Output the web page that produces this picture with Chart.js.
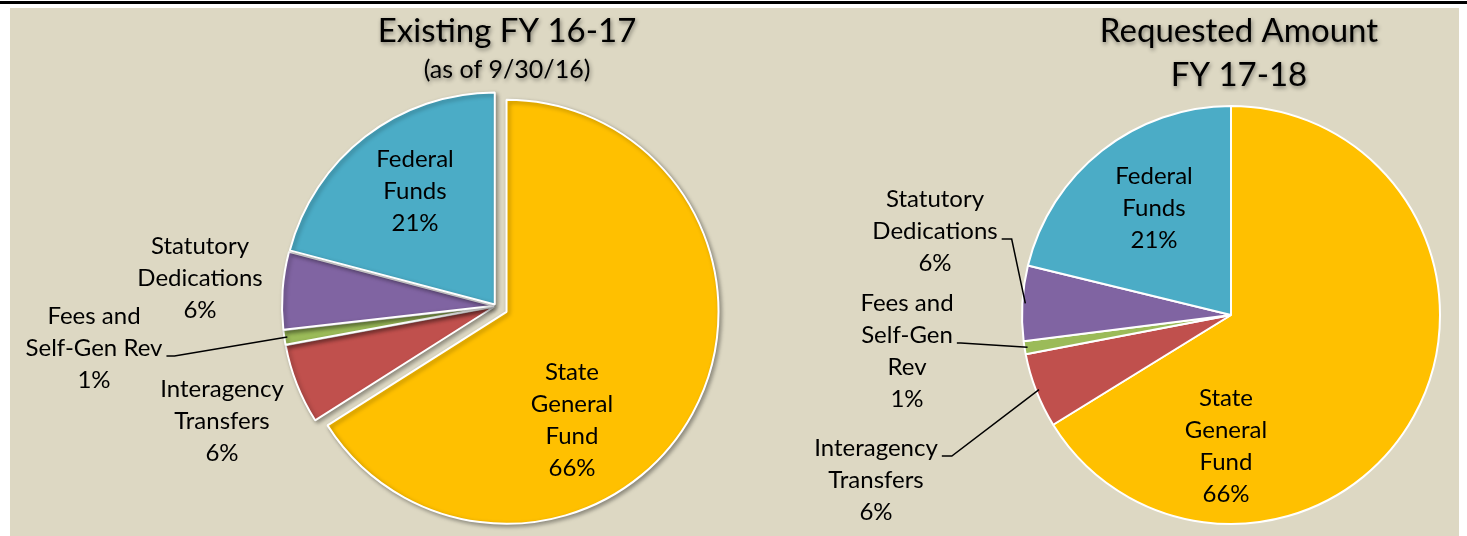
<!DOCTYPE html>
<html>
<head>
<meta charset="utf-8">
<title>Funding pies</title>
<script src="https://cdn.jsdelivr.net/npm/chart.js@4.4.1/dist/chart.umd.min.js"></script>
<style>
html, body { margin: 0; padding: 0; background: #fff; }
#frame { position: relative; width: 1467px; height: 536px; overflow: hidden; }
#topline { position: absolute; left: 0; top: 1px; width: 1467px; height: 3px; background: #000; }
#panel { position: absolute; left: 10px; top: 8px; width: 1449px; height: 528px; background: #DDD8C3; }
#leftChart { position: absolute; left: 0; top: 0; }
#rightChart { position: absolute; left: 733px; top: 0; }
</style>
</head>
<body>
<div id="frame">
  <div id="topline"></div>
  <div id="panel"></div>
  <canvas id="leftChart" width="733" height="536"></canvas>
  <canvas id="rightChart" width="734" height="536"></canvas>
</div>
<script>
// slices, clockwise from 12 o'clock
var categories = ["State General Fund", "Interagency Transfers", "Fees and Self-Gen Rev", "Statutory Dedications", "Federal Funds"];
var existingValues = [66.0, 6.1, 1.1, 5.9, 20.9];
var requestedValues = [66.2, 5.8, 1.0, 5.8, 21.2];
var sliceColors = ["#FFC000", "#C0504D", "#9BBB59", "#8064A2", "#4BACC6"];

var existingTitle = ["Existing FY 16-17", "(as of 9/30/16)"];
var requestedTitle = ["Requested Amount", "FY 17-18"];

// how each category name is broken over lines in each pie
var existingLabelLines = [["State", "General", "Fund"], ["Interagency", "Transfers"], ["Fees and", "Self-Gen Rev"], ["Statutory", "Dedications"], ["Federal", "Funds"]];
var requestedLabelLines = [["State", "General", "Fund"], ["Interagency", "Transfers"], ["Fees and", "Self-Gen", "Rev"], ["Statutory", "Dedications"], ["Federal", "Funds"]];

var LABEL_FONT = "24px Lato";
var LINE_H = 32;

// pushes slices out along their middle angle without growing them
// (the built-in offset option also enlarges the slice)
var explode = {
    id: "explode",
    beforeDatasetsDraw: function(chart, args, opts)
    {
        var dists = opts.distances || [];
        chart.getDatasetMeta(0).data.forEach(function(arc, i)
        {
            var dist = dists[i] || 0;
            arc.$explode = dist;
            if (!dist || arc.$patched) return;
            arc.$patched = true;
            var baseDraw = arc.draw;
            arc.draw = function(ctx, area)
            {
                var mid = (this.startAngle + this.endAngle) / 2;
                ctx.save();
                ctx.translate(Math.cos(mid) * this.$explode, Math.sin(mid) * this.$explode);
                baseDraw.call(this, ctx, area);
                ctx.restore();
            };
        });
    }
};

var sliceLabels = {
    id: "sliceLabels",
    afterDatasetsDraw: function(chart, args, opts)
    {
        var ctx = chart.ctx;
        var meta = chart.getDatasetMeta(0);
        var values = chart.data.datasets[0].data;
        var total = values.reduce(function(a, b) { return a + b; }, 0);

        ctx.save();
        ctx.font = LABEL_FONT;
        ctx.fillStyle = "#000";
        ctx.strokeStyle = "#000";
        ctx.lineWidth = 1.5;
        ctx.textAlign = "center";
        ctx.textBaseline = "middle";

        meta.data.forEach(function(arc, i)
        {
            var place = opts.places[i];
            var lines = opts.lines[i].concat([Math.round(values[i] / total * 100) + "%"]);
            var cx = arc.x + place.dx;
            var cy = arc.y + place.dy;
            var top = cy - (lines.length - 1) * LINE_H / 2;

            lines.forEach(function(t, k) { ctx.fillText(t, cx, top + k * LINE_H); });

            if (place.leader !== undefined)
            {
                var k = place.leader;
                var w = ctx.measureText(lines[k]).width;
                var sx = cx + w / 2 + 4;
                var sy = top + k * LINE_H + 8;
                var mid = (arc.startAngle + arc.endAngle) / 2;
                var r = arc.outerRadius - 3 + (arc.$explode || 0);
                var ex = arc.x + Math.cos(mid) * r;
                var ey = arc.y + Math.sin(mid) * r;
                ctx.beginPath();
                ctx.moveTo(sx, sy);
                ctx.lineTo(sx + place.elbow, sy);
                ctx.lineTo(ex, ey);
                ctx.stroke();
            }
        });
        ctx.restore();
    }
};

var pieTitle = {
    id: "pieTitle",
    afterDraw: function(chart, args, opts)
    {
        var ctx = chart.ctx;
        ctx.save();
        ctx.fillStyle = "#000";
        ctx.textAlign = "center";
        ctx.textBaseline = "middle";
        ctx.shadowColor = "rgba(0,0,0,0.45)";
        ctx.shadowBlur = 4;
        ctx.shadowOffsetX = 1;
        ctx.shadowOffsetY = 2;
        opts.lines.forEach(function(line, i)
        {
            ctx.font = opts.fonts[i];
            ctx.fillText(line, opts.x, opts.ys[i]);
        });
        ctx.restore();
    }
};

var pieShadow = {
    id: "pieShadow",
    beforeDatasetsDraw: function(chart, args, opts)
    {
        if (!opts.on) return;
        var ctx = chart.ctx;
        ctx.save();
        ctx.shadowColor = "rgba(0,0,0,0.35)";
        ctx.shadowBlur = 4;
        ctx.shadowOffsetX = 2;
        ctx.shadowOffsetY = 2;
    },
    afterDatasetsDraw: function(chart, args, opts)
    {
        if (!opts.on) return;
        chart.ctx.restore();
    }
};

function makePie(canvasId, values, distances, padding, labelLines, places, titleOpts, shadow)
{
    return new Chart(document.getElementById(canvasId), {
        type: "pie",
        data: {
            labels: categories,
            datasets: [{
                data: values,
                backgroundColor: sliceColors,
                borderColor: "#FFFFFF",
                borderWidth: 2
            }]
        },
        options: {
            responsive: false,
            animation: false,
            events: [],
            layout: { padding: padding },
            plugins: {
                legend: { display: false },
                tooltip: { enabled: false },
                title: { display: false },
                explode: { distances: distances },
                sliceLabels: { lines: labelLines, places: places },
                pieTitle: titleOpts,
                pieShadow: { on: shadow }
            }
        },
        plugins: [explode, pieShadow, sliceLabels, pieTitle]
    });
}

makePie("leftChart", existingValues, [12, 2, 2, 2, 2],
    { left: 283, right: 24, top: 93, bottom: 17 },
    existingLabelLines,
    [
        { dx: 76, dy: 114 },
        { dx: -274, dy: 115 },
        { dx: -402, dy: 42, leader: 1, elbow: 8 },
        { dx: -296, dy: -28 },
        { dx: -81, dy: -115 }
    ],
    { lines: existingTitle, fonts: ["33px Lato", "25px Lato"], x: 507, ys: [31, 70] },
    true);

makePie("rightChart", requestedValues, [],
    { left: 288, right: 26, top: 105, bottom: 11 },
    requestedLabelLines,
    [
        { dx: -5, dy: 131 },
        { dx: -355, dy: 165, leader: 0, elbow: 10 },
        { dx: -324, dy: 36, leader: 1, elbow: 4 },
        { dx: -296, dy: -84, leader: 1, elbow: 10 },
        { dx: -77, dy: -107 }
    ],
    { lines: requestedTitle, fonts: ["33px Lato", "33px Lato"], x: 506, ys: [31, 75] },
    false);
</script>
</body>
</html>
